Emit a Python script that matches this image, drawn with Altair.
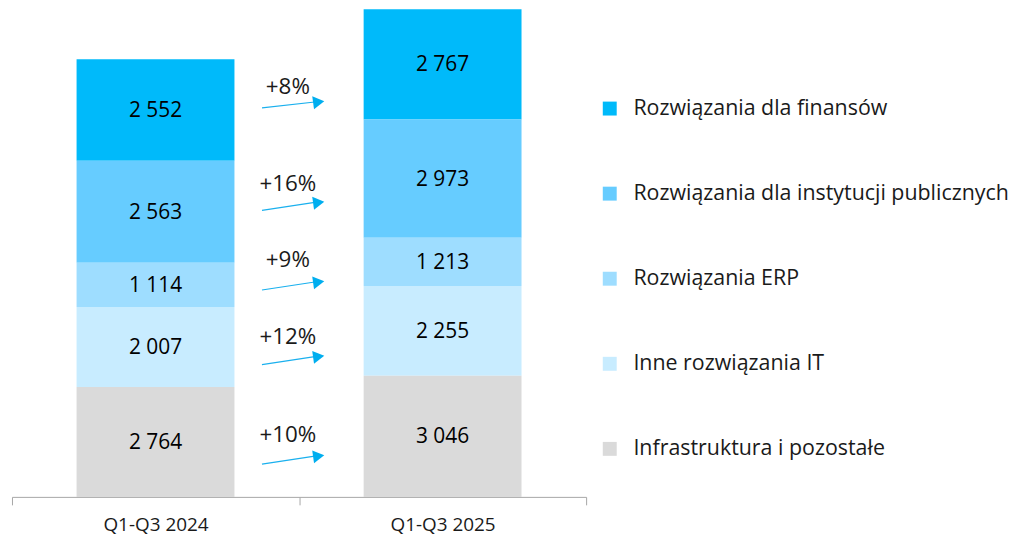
import altair as alt
import pandas as pd

# ---- data ----
periods = ["Q1-Q3 2024", "Q1-Q3 2025"]
segments = [
    "Rozwiązania dla finansów",
    "Rozwiązania dla instytucji publicznych",
    "Rozwiązania ERP",
    "Inne rozwiązania IT",
    "Infrastruktura i pozostałe",
]
values_2024 = [2552, 2563, 1114, 2007, 2764]
values_2025 = [2767, 2973, 1213, 2255, 3046]
colors = ["#00BAFA", "#66CCFF", "#9EDDFF", "#C8ECFF", "#DADADA"]
growth_labels = ["+8%", "+16%", "+9%", "+12%", "+10%"]
# annotation anchor levels (in data units) for the growth arrows
arrow_start = [9775, 7200, 5200, 3325, 825]
arrow_end = [9925, 7400, 5400, 3525, 1025]
label_level = [10300, 7875, 5950, 4025, 1550]

FONT = "Open Sans"

rows = []
for period, vals in zip(periods, [values_2024, values_2025]):
    for i, (seg, v) in enumerate(zip(segments, vals)):
        rows.append({
            "period": period,
            "segment": seg,
            "value": v,
            "rank": len(segments) - i,  # bottom of stack = Infrastruktura
            "label": f"{v:,}".replace(",", " "),
        })
df = pd.DataFrame(rows)

arrows = pd.DataFrame({
    "period": [periods[0]] * len(growth_labels),
    "y0": arrow_start,
    "y1": arrow_end,
    "ly": label_level,
    "txt": growth_labels,
})

x_scale = alt.Scale(domain=periods, paddingInner=0, paddingOuter=0)

x_enc = alt.X(
    "period:N",
    sort=periods,
    title=None,
    scale=x_scale,
    axis=alt.Axis(
        labelAngle=0,
        tickBand="extent",
        domainColor="#A6A6A6",
        tickColor="#A6A6A6",
        tickSize=8,
        labelFontSize=19,
        labelFont=FONT,
        labelColor="#1A1A1A",
        labelPadding=11,
    ),
)

y_scale = alt.Scale(domain=[0, sum(values_2025)], nice=False, zero=True)

base = alt.Chart(df).transform_stack(
    stack="value", groupby=["period"], as_=["v0", "v1"],
    sort=[alt.SortField("rank", order="ascending")],
).transform_calculate(mid="(datum.v0 + datum.v1) / 2")

bars = base.mark_bar(width=alt.RelativeBandSize(0.55)).encode(
    x=x_enc,
    y=alt.Y("v0:Q", scale=y_scale, axis=None),
    y2="v1:Q",
    color=alt.Color(
        "segment:N",
        scale=alt.Scale(domain=segments, range=colors),
        legend=alt.Legend(
            title=None,
            orient="none",
            legendX=590,
            legendY=89,
            symbolType="square",
            symbolSize=196,
            symbolStrokeWidth=0,
            symbolOpacity=1,
            labelFontSize=21.5,
            labelFont=FONT,
            labelColor="#1A1A1A",
            labelOffset=13,
            labelLimit=0,
            rowPadding=62.5,
        ),
    ),
)

value_text = base.mark_text(font=FONT, fontSize=21, color="#000000", baseline="middle", dy=1).encode(
    x=alt.X("period:N", sort=periods, scale=x_scale),
    y=alt.Y("mid:Q", scale=y_scale),
    text="label:N",
)

arrow_lines = alt.Chart(arrows).mark_rule(color="#1AB0EE", strokeWidth=1.2, xOffset=107, x2Offset=160).encode(
    x=alt.X("period:N", sort=periods, scale=x_scale),
    x2=alt.X2("period:N"),
    y=alt.Y("y0:Q", scale=y_scale),
    y2="y1:Q",
)

arrow_heads = alt.Chart(arrows).mark_point(
    shape="triangle-right", filled=True, size=170, color="#00AEEF", opacity=1,
    xOffset=164, angle=352,
).encode(
    x=alt.X("period:N", sort=periods, scale=x_scale),
    y=alt.Y("y1:Q", scale=y_scale),
)

growth_text = alt.Chart(arrows).mark_text(
    font=FONT, fontSize=22.5, color="#1A1A1A", baseline="middle", xOffset=133,
).encode(
    x=alt.X("period:N", sort=periods, scale=x_scale),
    y=alt.Y("ly:Q", scale=y_scale),
    text="txt:N",
)

chart = alt.layer(bars, value_text, arrow_lines, arrow_heads, growth_text).properties(
    width=577,
    height=490,
    padding={"left": 3, "top": 0, "right": 0, "bottom": 0},
).configure_view(stroke=None)

chart.save("out.html", embed_options={"renderer": "svg", "actions": False})
